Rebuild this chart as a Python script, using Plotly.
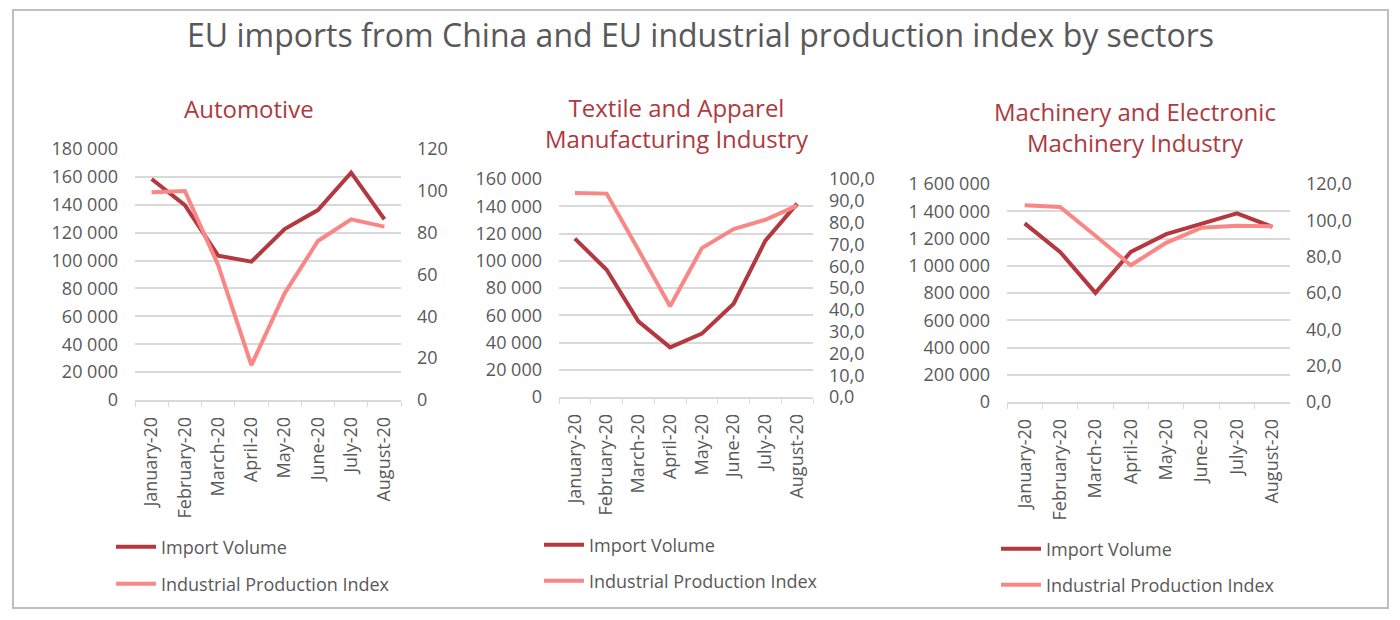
import plotly.graph_objects as go

months = ["January-20", "February-20", "March-20", "April-20", "May-20", "June-20", "July-20", "August-20"]

auto_import = [158500, 139800, 103500, 99200, 122600, 136200, 163000, 129600]
auto_index = [99.3, 99.9, 64.5, 16.7, 51.0, 76.0, 86.4, 82.9]

textile_import = [116200, 93400, 55500, 36400, 46500, 68500, 114700, 141900]
textile_index = [93.6, 93.3, 67.5, 41.6, 68.3, 77.0, 81.3, 87.8]

mach_import = [1311000, 1102000, 801000, 1102000, 1232000, 1306000, 1384000, 1286000]
mach_index = [108.3, 107.3, 91.5, 75.3, 87.6, 95.9, 97.0, 96.8]

titles = ["Automotive", "Textile and Apparel<br>Manufacturing Industry", "Machinery and Electronic<br>Machinery Industry"]
series_names = ["Import Volume", "Industrial Production Index"]

DARK = "#B3383F"
LIGHT = "#F98785"
TITLE_RED = "#AE3A40"
GREY_TXT = "#595959"
GRID = "#D9D9D9"

W, H = 1400, 620
TICK_SIZE = 18

def px_x(v):
    return v / W

def px_y(v):
    return 1 - v / H

panels = [
    dict(imp=auto_import, idx=auto_index, x0=135, x1=401, y0=149, y1=400,
         lmax=180000, ldt=20000, rmax=120, rdt=20, rfmt="d",
         title_x=249, title_y=108, leg_x=115, leg_y=(547, 584)),
    dict(imp=textile_import, idx=textile_index, x0=559, x1=813, y0=179, y1=397,
         lmax=160000, ldt=20000, rmax=100, rdt=10, rfmt=".1f",
         title_x=677, title_y=123, leg_x=543, leg_y=(545, 581)),
    dict(imp=mach_import, idx=mach_index, x0=1007, x1=1290, y0=184, y1=402,
         lmax=1600000, ldt=200000, rmax=120, rdt=20, rfmt=".1f",
         title_x=1135, title_y=127, leg_x=1000, leg_y=(549, 585)),
]

fig = go.Figure()
layout = dict(
    width=W, height=H,
    margin=dict(l=0, r=0, t=0, b=0, autoexpand=False),
    paper_bgcolor="white", plot_bgcolor="white",
    separators=", ",
    font=dict(family="Open Sans", color=GREY_TXT, size=TICK_SIZE),
    showlegend=True,
    hovermode=False,
)
annotations = []

for i, p in enumerate(panels):
    xa = f"x{2*i+1}" if i > 0 else "x"
    xname = f"xaxis{2*i+1}" if i > 0 else "xaxis"
    ya_l = f"y{2*i+1}" if i > 0 else "y"
    yname_l = f"yaxis{2*i+1}" if i > 0 else "yaxis"
    ya_r = f"y{2*i+2}"
    yname_r = f"yaxis{2*i+2}"
    leg_a = "legend" if i == 0 else f"legend{2*i+1}"
    leg_b = f"legend{2*i+2}"

    fig.add_trace(go.Scatter(
        x=months, y=p["imp"], mode="lines", name=series_names[0],
        line=dict(color=DARK, width=4), xaxis=xa, yaxis=ya_l, legend=leg_a))
    fig.add_trace(go.Scatter(
        x=months, y=p["idx"], mode="lines", name=series_names[1],
        line=dict(color=LIGHT, width=4), xaxis=xa, yaxis=ya_r, legend=leg_b))

    layout[xname] = dict(
        domain=[px_x(p["x0"]), px_x(p["x1"])], anchor=ya_l, automargin=False,
        type="category", tickangle=-90, ticks="outside", tickson="boundaries",
        ticklen=5, tickcolor=GRID, showline=True, linecolor=GRID, linewidth=1.5,
        showgrid=False, tickfont=dict(size=TICK_SIZE, color=GREY_TXT),
        ticklabelstandoff=8, range=[-0.5, 7.5], fixedrange=True)
    layout[yname_l] = dict(
        domain=[px_y(p["y1"]), px_y(p["y0"])], anchor=xa, automargin=False,
        range=[0, p["lmax"]], dtick=p["ldt"], tick0=0, tickformat=",d",
        showgrid=True, gridcolor=GRID, gridwidth=1.5, zeroline=False,
        showline=False, ticks="", ticklabelstandoff=16,
        tickfont=dict(size=TICK_SIZE, color=GREY_TXT))
    layout[yname_r] = dict(
        domain=[px_y(p["y1"]), px_y(p["y0"])], anchor=xa, overlaying=ya_l,
        automargin=False, side="right", range=[0, p["rmax"]], dtick=p["rdt"], tick0=0,
        tickformat=p["rfmt"], showgrid=False, zeroline=False, showline=False,
        ticks="", ticklabelstandoff=15, tickfont=dict(size=TICK_SIZE, color=GREY_TXT))
    for leg, ly in zip((leg_a, leg_b), p["leg_y"]):
        layout[leg] = dict(
            x=px_x(p["leg_x"] - 4), y=px_y(ly), xanchor="left", yanchor="middle",
            orientation="v", itemwidth=40,
            font=dict(size=TICK_SIZE, color=GREY_TXT), bgcolor="rgba(0,0,0,0)")

    annotations.append(dict(
        text=titles[i], x=px_x(p["title_x"]), y=px_y(p["title_y"]),
        xref="paper", yref="paper", xanchor="center", yanchor="middle",
        showarrow=False, font=dict(size=24, color=TITLE_RED)))

annotations.append(dict(
    text="EU imports from China and EU industrial production index by sectors",
    x=0.5, y=px_y(35), xref="paper", yref="paper", xanchor="center", yanchor="middle",
    showarrow=False, font=dict(size=32, color=GREY_TXT)))

layout["annotations"] = annotations
layout["shapes"] = [dict(type="rect", xref="paper", yref="paper",
                         x0=px_x(13), x1=px_x(1388), y0=px_y(608), y1=px_y(10),
                         line=dict(color="#BFBFBF", width=2), fillcolor="rgba(0,0,0,0)")]

fig.update_layout(**layout)
fig.write_html("out.html", config={"displayModeBar": False},
               post_script="document.body.style.margin='0px';")
